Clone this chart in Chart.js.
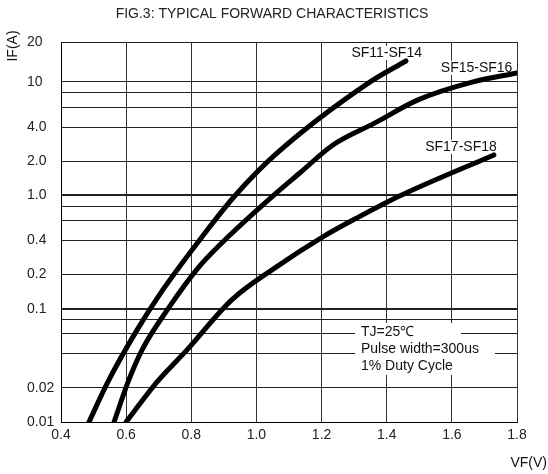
<!DOCTYPE html>
<html>
<head>
<meta charset="utf-8">
<script src="https://cdn.jsdelivr.net/npm/chart.js@4"></script>
<style>
  html, body { margin: 0; padding: 0; background: #fff; }
  #wrap { width: 548px; height: 474px; }
</style>
</head>
<body>
<div id="wrap"><canvas id="chart"></canvas></div>
<script>
// values (VF in volts, IF in amps)
const sf11V = [0.486, 0.544, 0.630, 0.713, 0.833, 0.934, 1.057, 1.349, 1.459];
const sf11I = [0.01, 0.0226, 0.0624, 0.147, 0.43, 0.99, 2.27, 10, 15.3];

const sf15V = [0.563, 0.606, 0.649, 0.729, 0.821, 0.913, 1.051, 1.134, 1.235, 1.364, 1.496, 1.665, 1.8];
const sf15I = [0.01, 0.0226, 0.0433, 0.1, 0.229, 0.43, 0.99, 1.58, 2.78, 4.35, 6.94, 10, 12.0];

const sf17V = [0.600, 0.695, 0.787, 0.925, 1.057, 1.204, 1.309, 1.441, 1.729];
const sf17I = [0.01, 0.0226, 0.0433, 0.12, 0.229, 0.43, 0.632, 0.99, 2.27];

const seriesNames = ['SF11-SF14', 'SF15-SF16', 'SF17-SF18'];

// the printed frame top sits a bit above the 20 A mark, it is still labelled 20
const yTop = 22.5;
const yGrid = [0.01, 0.02, 0.04, 0.06, 0.08, 0.1, 0.2, 0.4, 0.6, 0.8, 1, 2, 4, 6, 8, 10, yTop];
const yLabels = ['0.01', '0.02', '', '', '', '0.1', '0.2', '0.4', '', '', '1.0', '2.0', '4.0', '', '', '10', '20'];

const noteLines = ['TJ=25\u2103', 'Pulse width=300us', '1% Duty Cycle'];

const FONT = "'Liberation Sans', Arial, sans-serif";

function toPoints(xs, ys) {
    return xs.map(function(x, i) { return {x: x, y: ys[i]}; });
}

function curve(label, xs, ys) {
    return {
        label: label,
        data: toPoints(xs, ys),
        borderColor: '#000',
        borderWidth: 5,
        borderCapStyle: 'round',
        borderJoinStyle: 'round',
        pointRadius: 0,
        cubicInterpolationMode: 'monotone',
        fill: false
    };
}

// text drawn on top of the grid but under the curves, with white behind it
const textPlugin = {
    id: 'datasheetText',
    beforeDatasetsDraw: function(chart) {
        const ctx = chart.ctx;
        const xs = chart.scales.x, ys = chart.scales.y;
        const area = chart.chartArea;
        ctx.save();
        ctx.font = '14px ' + FONT;
        ctx.textBaseline = 'middle';
        ctx.textAlign = 'center';

        const tags = [
            {text: seriesNames[0], x: 1.40, y: 18},
            {text: seriesNames[1], x: 1.676, y: 13.3},
            {text: seriesNames[2], x: 1.628, y: 2.67}
        ];
        tags.forEach(function(t) {
            const px = xs.getPixelForValue(t.x), py = ys.getPixelForValue(t.y);
            const w = ctx.measureText(t.text).width;
            ctx.fillStyle = '#fff';
            ctx.fillRect(px - w / 2 - 1, py - 7, w + 2, 14);
            ctx.fillStyle = '#111';
            ctx.fillText(t.text, px, py);
        });

        // test conditions note
        const nx = area.left + 300;
        let ny = 332;
        ctx.textAlign = 'left';
        noteLines.forEach(function(line) {
            const w = ctx.measureText(line).width;
            const right = Math.max(nx + w + 16, nx + 100);
            ctx.fillStyle = '#fff';
            ctx.fillRect(nx - 6, ny - 9, right - nx + 6, 18);
            ctx.fillStyle = '#111';
            ctx.fillText(line, nx, ny);
            ny += 17;
        });
        ctx.restore();
    },
    afterDraw: function(chart) {
        const ctx = chart.ctx;
        ctx.save();
        ctx.fillStyle = '#111';
        ctx.font = '14px ' + FONT;
        ctx.textBaseline = 'middle';
        ctx.textAlign = 'right';
        ctx.fillText('VF(V)', 547, 463);
        ctx.translate(13, 46);
        ctx.rotate(-Math.PI / 2);
        ctx.textAlign = 'center';
        ctx.fillText('IF(A)', 0, 0);
        ctx.restore();
    }
};

new Chart(document.getElementById('chart'), {
    type: 'line',
    data: {
        datasets: [
            curve(seriesNames[0], sf11V, sf11I),
            curve(seriesNames[1], sf15V, sf15I),
            curve(seriesNames[2], sf17V, sf17I)
        ]
    },
    options: {
        responsive: true,
        maintainAspectRatio: false,
        animation: false,
        events: [],
        layout: {padding: {left: 27, right: 31, top: 0, bottom: 0}},
        plugins: {
            legend: {display: false},
            tooltip: {enabled: false},
            title: {
                display: true,
                text: 'FIG.3: TYPICAL FORWARD CHARACTERISTICS',
                color: '#222',
                font: {family: FONT, size: 14, weight: 'normal'},
                padding: {top: 6, bottom: 19.2}
            }
        },
        scales: {
            x: {
                type: 'linear',
                min: 0.4,
                max: 1.8,
                ticks: {
                    stepSize: 0.2,
                    color: '#222',
                    padding: 5,
                    font: {family: FONT, size: 14},
                    callback: function(v) { return v.toFixed(1); }
                },
                grid: {color: '#333', lineWidth: 1, drawTicks: false},
                border: {color: '#000', width: 1},
                afterFit: function(scale) { scale.height = 52; }
            },
            y: {
                type: 'logarithmic',
                min: 0.01,
                max: yTop,
                afterBuildTicks: function(scale) {
                    scale.ticks = yGrid.map(function(v) { return {value: v}; });
                },
                ticks: {
                    autoSkip: false,
                    crossAlign: 'far',
                    color: '#222',
                    font: {family: FONT, size: 14},
                    callback: function(v, i) { return yLabels[i]; }
                },
                grid: {
                    color: '#222',
                    drawTicks: false,
                    lineWidth: function(c) {
                        const v = c.tick ? c.tick.value : 0;
                        return (v === 1 || v === 0.1) ? 2 : 1;
                    }
                },
                border: {color: '#000', width: 1},
                afterFit: function(scale) { scale.width = 34; }
            }
        }
    },
    plugins: [textPlugin]
});
</script>
</body>
</html>
